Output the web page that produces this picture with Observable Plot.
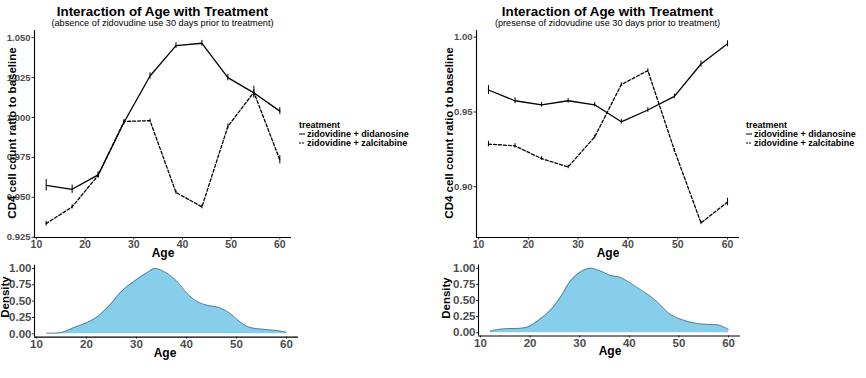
<!DOCTYPE html>
<html>
<head>
<meta charset="utf-8">
<script src="https://cdn.jsdelivr.net/npm/d3@7"></script>
<script src="https://cdn.jsdelivr.net/npm/@observablehq/plot@0.6"></script>
<style>
  body { margin: 0; background: #fff; font-family: "Liberation Sans", Arial, sans-serif; }
  #chart { position: relative; width: 866px; height: 378px; overflow: hidden; background: #fff; }
  .abs { position: absolute; white-space: nowrap; line-height: 1; }
  .center { transform: translate(-50%, -50%); }
  .title { font-weight: bold; font-size: 13.4px; color: #000; }
  .subtitle { font-size: 9.2px; color: #000; }
  .axis-title { font-weight: bold; font-size: 12px; color: #000; }
  .ylab { font-weight: bold; font-size: 11.5px; color: #000; transform: translate(-50%, -50%) rotate(-90deg); }
  .legend { font-weight: bold; font-size: 9px; color: #000; line-height: 9px; }
  .legend svg { vertical-align: middle; margin-right: 2px; }
  .panel { position: absolute; }
</style>
</head>
<body>
<div id="chart"></div>
<script>
// Age bins (midpoints) shared by both panels
const ages = [12, 17.33, 22.67, 28, 33.33, 38.67, 44, 49.33, 54.67, 60];
const treatments = ["zidovidine + didanosine", "zidovidine + zalcitabine"];

// CD4 ratio to baseline, no zidovudine in the prior 30 days
const absenceDidanosine = [0.9575, 0.955, 0.964, 0.997, 1.026, 1.045, 1.0465, 1.025, 1.0154, 1.004];
const absenceDidanosineErr = [0.0036, 0.0026, 0.002, 0.0015, 0.002, 0.0018, 0.0018, 0.002, 0.002, 0.0022];
const absenceZalcitabine = [0.9335, 0.944, 0.9637, 0.9975, 0.998, 0.953, 0.944, 0.9944, 1.0158, 0.9735];
const absenceZalcitabineErr = [0.0015, 0.0013, 0.0013, 0.001, 0.001, 0.0012, 0.0012, 0.0015, 0.0038, 0.0026];

// CD4 ratio to baseline, zidovudine used in the prior 30 days
const presenceDidanosine = [0.9647, 0.9575, 0.9548, 0.9575, 0.9548, 0.9434, 0.9513, 0.9604, 0.9821, 0.9956];
const presenceDidanosineErr = [0.003, 0.002, 0.0015, 0.0015, 0.0015, 0.0015, 0.0015, 0.0015, 0.002, 0.002];
const presenceZalcitabine = [0.9285, 0.9273, 0.9188, 0.9132, 0.9333, 0.9683, 0.9777, 0.9244, 0.8758, 0.8897];
const presenceZalcitabineErr = [0.0018, 0.0015, 0.0012, 0.0012, 0.0012, 0.0012, 0.0012, 0.0012, 0.0012, 0.0025];

// Scaled age density curves
const absenceDensityAges = [12, 15, 17.6, 20, 22.3, 25, 27, 30, 32, 33.7, 36, 38, 40, 42, 44, 46.6, 48.6, 50.6, 52.6, 55.3, 58, 60];
const absenceDensity = [0.01, 0.02, 0.1, 0.17, 0.27, 0.47, 0.65, 0.83, 0.93, 1.0, 0.93, 0.81, 0.63, 0.5, 0.44, 0.4, 0.32, 0.19, 0.1, 0.07, 0.05, 0.025];
const presenceDensityAges = [12, 13.5, 15.5, 18.1, 19.8, 22.1, 24.1, 26.1, 28.1, 30.1, 32.1, 34.1, 36.1, 38.1, 40, 42, 44, 46, 48, 50, 52, 54, 56, 58, 60];
const presenceDensity = [0.025, 0.05, 0.065, 0.07, 0.1, 0.22, 0.35, 0.55, 0.8, 0.94, 1.0, 0.96, 0.89, 0.86, 0.78, 0.68, 0.58, 0.45, 0.3, 0.22, 0.17, 0.14, 0.13, 0.12, 0.05];

// Tick labels
const ageTicks = [10, 20, 30, 40, 50, 60];
const absenceTicks = [0.925, 0.95, 0.975, 1.0, 1.025, 1.05];
const presenceTicks = [0.90, 0.95, 1.00];
const densityTicks = [0, 0.25, 0.5, 0.75, 1];

const ageDomain = [9.6, 62.4];
const tickText = "#4d4d4d";
const font = "'Liberation Sans', Arial, sans-serif";

const chart = document.getElementById("chart");

function place(node, left, top) {
  node.classList.add("panel");
  node.style.left = left + "px";
  node.style.top = top + "px";
  chart.appendChild(node);
}

function addText(cls, text, x, y) {
  const d = document.createElement("div");
  d.className = "abs " + cls;
  d.textContent = text;
  d.style.left = x + "px";
  d.style.top = y + "px";
  chart.appendChild(d);
  return d;
}

function rowsFor(values, errs, treatment) {
  return ages.map((a, i) => ({age: a, ratio: values[i], err: errs[i], treatment}));
}

function ratioPanel({width, marginLeft, marginRight, yDomain, yTicks, yFormat, solid, dashed}) {
  return Plot.plot({
    width, height: 260,
    marginLeft, marginRight, marginTop: 30, marginBottom: 260 - 237,
    style: {fontFamily: font, background: "transparent", overflow: "visible"},
    x: {domain: ageDomain},
    y: {domain: yDomain},
    marks: [
      Plot.axisY({ticks: yTicks, tickFormat: d3.format(yFormat), tickSize: 2.5, tickPadding: 1.5,
                  stroke: "#333", fill: tickText, fontWeight: "bold", fontSize: 9.5, label: null}),
      Plot.axisX({ticks: ageTicks, tickSize: 2.5, tickPadding: 1, stroke: "#333", fill: tickText,
                  fontWeight: "bold", fontSize: 10.5, label: null}),
      Plot.ruleX([ageDomain[0]], {stroke: "#000", strokeWidth: 1.1}),
      Plot.ruleY([yDomain[0]], {stroke: "#000", strokeWidth: 1.1}),
      Plot.line(solid, {x: "age", y: "ratio", stroke: "#000", strokeWidth: 1.3}),
      Plot.line(dashed, {x: "age", y: "ratio", stroke: "#000", strokeWidth: 1.3, strokeDasharray: "3,2"}),
      Plot.ruleX(solid, {x: "age", y1: d => d.ratio - d.err, y2: d => d.ratio + d.err, stroke: "#000", strokeWidth: 1}),
      Plot.ruleX(dashed, {x: "age", y1: d => d.ratio - d.err, y2: d => d.ratio + d.err, stroke: "#000", strokeWidth: 1})
    ]
  });
}

function densityPanel({width, marginLeft, marginRight, marginTop, marginBottom, xs, ys}) {
  const rows = xs.map((a, i) => ({age: a, density: ys[i]}));
  const yDomain = [-0.05, 1.05];
  return Plot.plot({
    width, height: 105,
    marginLeft, marginRight, marginTop, marginBottom,
    style: {fontFamily: font, background: "transparent", overflow: "visible"},
    x: {domain: ageDomain},
    y: {domain: yDomain},
    marks: [
      Plot.areaY(rows, {x: "age", y: "density", fill: "#87CEEB", curve: "catmull-rom"}),
      Plot.lineY(rows, {x: "age", y: "density", stroke: "#3a4a55", strokeWidth: 0.6, curve: "catmull-rom"}),
      Plot.axisY({ticks: densityTicks, tickFormat: d3.format(".2f"), tickSize: 2, tickPadding: 1,
                  stroke: "#333", fill: tickText, fontWeight: "bold", fontSize: 11.5, label: null}),
      Plot.axisX({ticks: ageTicks, tickSize: 2, tickPadding: 0.5, stroke: "#333", fill: tickText,
                  fontWeight: "bold", fontSize: 11.5, label: null}),
      Plot.ruleX([ageDomain[0]], {stroke: "#000", strokeWidth: 1.1}),
      Plot.ruleY([yDomain[0]], {stroke: "#000", strokeWidth: 1.1})
    ]
  });
}

function legend(x, y) {
  const box = document.createElement("div");
  box.className = "abs legend";
  box.style.left = x + "px";
  box.style.top = y + "px";
  const dashes = [null, "2,1"];
  box.innerHTML = `<div>treatment</div>` + treatments.map((t, i) =>
    `<div><svg width="6" height="4"><line x1="0" x2="6" y1="2" y2="2" stroke="#000" stroke-width="1"${dashes[i] ? ` stroke-dasharray="${dashes[i]}"` : ""}/></svg>${t}</div>`
  ).join("");
  chart.appendChild(box);
}

// Left: absence of zidovudine
place(ratioPanel({
  width: 300, marginLeft: 34, marginRight: 9,
  yDomain: [0.9248, 1.0545], yTicks: absenceTicks, yFormat: ".3f",
  solid: rowsFor(absenceDidanosine, absenceDidanosineErr, treatments[0]),
  dashed: rowsFor(absenceZalcitabine, absenceZalcitabineErr, treatments[1])
}), 0, 0);

// Right: presence of zidovudine
place(ratioPanel({
  width: 320, marginLeft: 46, marginRight: 11,
  yDomain: [0.866, 1.0045], yTicks: presenceTicks, yFormat: ".2f",
  solid: rowsFor(presenceDidanosine, presenceDidanosineErr, treatments[0]),
  dashed: rowsFor(presenceZalcitabine, presenceZalcitabineErr, treatments[1])
}), 430, 0);

place(densityPanel({width: 300, marginLeft: 34, marginRight: 2, marginTop: 14.7, marginBottom: 18.4,
  xs: absenceDensityAges, ys: absenceDensity}), 0, 250);
place(densityPanel({width: 320, marginLeft: 48, marginRight: 10, marginTop: 14.5, marginBottom: 19.5,
  xs: presenceDensityAges, ys: presenceDensity}), 430, 250);

// Titles
addText("title center", "Interaction of Age with Treatment", 162.5, 12);
addText("subtitle center", "(absence of zidovudine use 30 days prior to treatment)", 162.5, 24);
addText("title center", "Interaction of Age with Treatment", 607.5, 12);
addText("subtitle center", "(presense of zidovudine use 30 days prior to treatment)", 607.5, 24);

// Axis titles
addText("ylab", "CD4 cell count ratio to baseline", 13, 133);
addText("ylab", "CD4 cell count ratio to baseline", 450, 133);
addText("axis-title center", "Age", 163, 253);
addText("axis-title center", "Age", 608, 253);
addText("ylab", "Density", 6, 297);
addText("ylab", "Density", 447, 298);
addText("axis-title center", "Age", 165, 353);
addText("axis-title center", "Age", 610, 351);

legend(299, 120.5);
legend(746, 120.5);
</script>
</body>
</html>
